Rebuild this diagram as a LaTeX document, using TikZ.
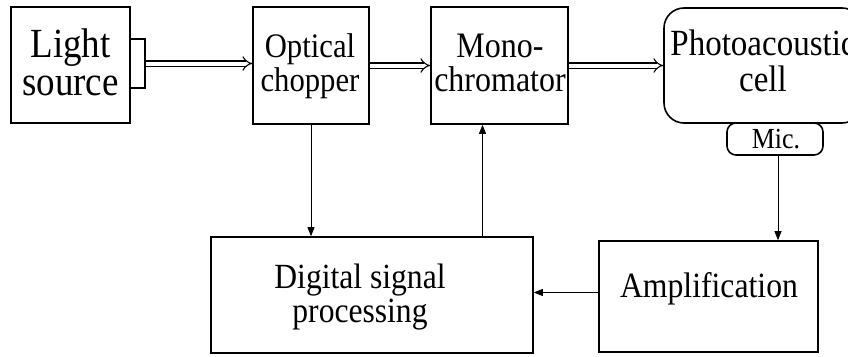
\documentclass[tikz,border=0pt]{standalone}
\usepackage{fontspec}
\setmainfont{Liberation Serif}
\usetikzlibrary{arrows.meta}
\newcommand{\vtxt}[3]{\scalebox{1}[1.12]{\fontsize{#1}{#2}\selectfont\begin{tabular}[t]{@{}c@{}}#3\end{tabular}}}
\begin{document}
\begin{tikzpicture}[x=1pt,y=-1pt,
  box/.style={draw, line width=1.6pt, inner sep=0pt},
  txt/.style={inner sep=0pt, anchor=base},
  dbl/.style={double, double distance=4pt, line width=1.1pt, -{Implies}},
  sig/.style={line width=0.8pt, -{Triangle[length=9pt,width=7pt]}}]
\useasboundingbox (0,0) rectangle (848,356);
\clip (0,0) rectangle (848,356);
\fill[white] (0,0) rectangle (848,356);
% boxes
\node[box, minimum width=119pt, minimum height=116pt] (light) at (70.5,65) {};
\node[box, minimum width=15pt, minimum height=49pt] (tab) at (137.5,63.5) {};
\node[box, minimum width=116pt, minimum height=117pt] (chopper) at (311,65.5) {};
\node[box, minimum width=137pt, minimum height=117pt] (mono) at (499.5,65.5) {};
\node[box, rounded corners=20pt, minimum width=198pt, minimum height=115pt] (cell) at (763,65.5) {};
\node[box, rounded corners=9pt, minimum width=96pt, minimum height=32pt] (mic) at (775,139) {};
\node[box, minimum width=219pt, minimum height=111pt] (amp) at (708.5,296.5) {};
\node[box, minimum width=322pt, minimum height=116pt] (dsp) at (372,295) {};
% texts
\node[txt] (lightT) at (70.5,57) {\vtxt{37}{34.5}{Light\\source}};
\node[txt] (chopperT) at (310,57) {\vtxt{30.7}{30.5}{Optical\\chopper}};
\node[txt] (monoT) at (500,57) {\vtxt{32}{29.5}{Mono-\\chromator}};
\node[txt] (cellT) at (763,55) {\vtxt{33}{33}{Photoacoustic\\cell}};
\node[txt] (micT) at (776,148) {\vtxt{26}{28}{Mic.}};
\node[txt] (ampT) at (709,297) {\vtxt{31.7}{33}{Amplification}};
\node[txt] (dspT) at (360,288) {\vtxt{31.6}{30.5}{Digital signal\\processing}};
% helper coordinates
\coordinate (micOut) at ([xshift=3pt]mic.south);
\coordinate (ampOut) at ([yshift=4pt]amp.west);
\coordinate (monoIn) at ([xshift=-17pt]mono.south);
% connectors
\draw[dbl] (tab.east) -- (chopper.west |- tab.east);
\draw[dbl] (chopper.east) -- (mono.west);
\draw[dbl] (mono.east) -- (cell.west);
\draw[sig] (chopper.south) -- (dsp.north -| chopper.south);
\draw[sig] (monoIn |- dsp.north) -- (monoIn);
\draw[sig] (micOut) -- (amp.north -| micOut);
\draw[sig] (ampOut) -- (dsp.east |- ampOut);
\end{tikzpicture}
\end{document}
